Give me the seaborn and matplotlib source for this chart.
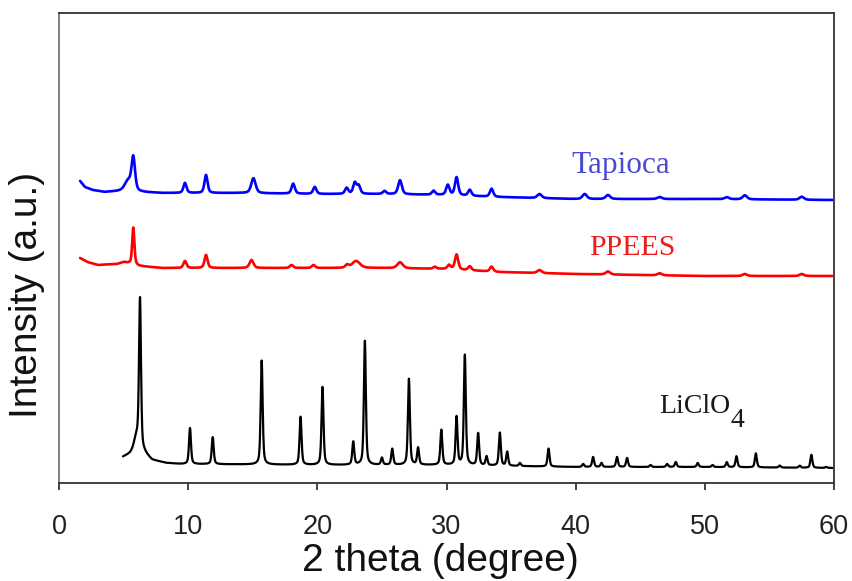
import numpy as np
import pandas as pd
import matplotlib
matplotlib.use("Agg")
import matplotlib.pyplot as plt
import seaborn as sns

# ---------------- data ----------------
x_ticks = [0, 10, 20, 30, 40, 50, 60]

# LiClO4 (black)
licl_range = (4.95, 59.9)
licl_base_x = [4.95, 5.5, 5.9, 6.6, 7.2, 8.3, 9.4, 15, 20, 25, 30, 35, 40, 50, 60]
licl_base_y = [26, 29, 33, 30, 23, 20, 19, 18.5, 18, 18, 18, 17, 16, 16, 15]
licl_pos = [6.0, 6.27, 10.14, 11.9, 15.69, 18.7, 20.4, 22.78, 23.68, 25.0, 25.8,
            27.09, 27.8, 29.6, 30.78, 31.42, 32.45, 33.1, 34.13, 34.7, 35.68,
            37.9, 40.58, 41.35, 42.0, 43.2, 43.98, 45.8, 47.08, 47.75, 49.45,
            50.6, 51.7, 52.45, 53.95, 55.8, 57.35, 58.25, 59.4]
licl_h = [12, 150, 36, 27, 104, 48, 78, 23, 124, 7, 16,
          86, 17, 35, 48, 110, 32, 9, 33, 14, 3,
          18, 3, 10, 4, 10, 9, 2, 3, 5, 4,
          2, 5, 11, 14, 2, 2, 13, 1]
licl_hw = [0.22, 0.09] + [0.09] * 37

# Tapioca (blue)
tap_range = (1.63, 59.9)
tap_base_x = [1.63, 2.0, 2.6, 3.5, 5.0, 6.2, 8, 14, 20, 25, 30, 34, 40, 50, 60]
tap_base_y = [302, 296, 293, 291, 292, 291, 290, 290, 289, 289, 288, 286, 284, 284, 283]
tap_pos = [5.35, 5.75, 9.75, 11.38, 15.05, 18.13, 19.8, 22.27, 22.9, 23.2, 25.2,
           26.4, 29.0, 30.1, 30.78, 31.8, 33.49, 37.2, 40.7, 42.5, 46.5,
           51.7, 53.1, 57.5]
tap_h = [10, 33, 10, 18, 15, 10, 7, 6, 11, 8, 3,
         14, 4, 10, 18, 6, 8, 4, 5, 4, 2,
         2, 4, 3]
tap_hw = [0.3, 0.16, 0.14, 0.14, 0.2, 0.15, 0.15, 0.15, 0.15, 0.15, 0.15,
          0.17, 0.15, 0.15, 0.15, 0.15, 0.15, 0.2, 0.2, 0.2, 0.2,
          0.2, 0.2, 0.2]

# PPEES (red)
pp_range = (1.63, 59.9)
pp_base_x = [1.63, 2.2, 3.0, 4.5, 5.0, 6.2, 8, 14, 20, 25, 30, 34, 40, 50, 60]
pp_base_y = [225, 221, 218, 219, 221, 217, 215, 215, 215, 215, 214, 211, 209, 207, 207]
pp_pos = [5.75, 9.75, 11.38, 14.9, 18.0, 19.7, 22.3, 23.0, 26.4, 29.1, 30.2,
          30.78, 31.8, 33.49, 37.2, 42.5, 46.5, 53.1, 57.5]
pp_h = [37, 7, 13, 8, 3, 3, 3, 7, 6, 2, 4,
        15, 4, 5, 3, 3, 2, 2, 2]
pp_hw = [0.1, 0.14, 0.14, 0.18, 0.15, 0.15, 0.15, 0.35, 0.25, 0.15, 0.15,
         0.15, 0.15, 0.15, 0.2, 0.2, 0.2, 0.2, 0.2]

samples = ["LiClO4", "PPEES", "Tapioca"]
colors = {"LiClO4": "#000000", "PPEES": "#ff0000", "Tapioca": "#0000ff"}


def pattern(rng, bx, by, pos, h, hw):
    x = np.arange(rng[0], rng[1], 0.01)
    y = np.interp(x, bx, by)
    for c, a, g in zip(pos, h, hw):
        lor = g ** 2 / ((x - c) ** 2 + g ** 2)
        gau = np.exp(-np.log(2) * ((x - c) / g) ** 2)
        y = y + a * (0.5 * lor + 0.5 * gau)
    return x, y


frames = []
for name, args in [("LiClO4", (licl_range, licl_base_x, licl_base_y, licl_pos, licl_h, licl_hw)),
                   ("PPEES", (pp_range, pp_base_x, pp_base_y, pp_pos, pp_h, pp_hw)),
                   ("Tapioca", (tap_range, tap_base_x, tap_base_y, tap_pos, tap_h, tap_hw))]:
    xx, yy = pattern(*args)
    frames.append(pd.DataFrame({"two_theta": xx, "intensity": yy, "sample": name}))
df = pd.concat(frames, ignore_index=True)

# ---------------- figure ----------------
sns.set_style("white")
plt.rcParams['font.family'] = ['Liberation Sans', 'DejaVu Sans']

fig = plt.figure(figsize=(8.53, 5.81), dpi=100)
ax = fig.add_axes([0.0692, 0.1687, 0.9085, 0.8089])

for name, lw in [("LiClO4", 1.6), ("PPEES", 1.9), ("Tapioca", 1.9)]:
    sns.lineplot(data=df[df["sample"] == name], x="two_theta", y="intensity",
                 color=colors[name], linewidth=lw, estimator=None, sort=False,
                 legend=False, ax=ax)

ax.set_xlim(0, 60)
ax.set_ylim(0, 470)
ax.set_xticks(x_ticks)
ax.set_xticklabels([str(t) for t in x_ticks])
ax.set_yticks([])
ax.tick_params(axis='x', direction='out', bottom=True, length=5, width=1.2,
               pad=17.5, labelsize=19.5, colors='#222222')
for s in ax.spines.values():
    s.set_color('#333333')
    s.set_linewidth(1.3)
ax.spines['left'].set_color('#777777')

ax.set_xlabel('2 theta (degree)', fontsize=28, color='#111111')
ax.xaxis.set_label_coords(0.4916, -0.128)
ax.set_ylabel('Intensity (a.u.)', fontsize=28, color='#111111')
ax.yaxis.set_label_coords(-0.018, 0.40)

serif = ['Liberation Serif', 'DejaVu Serif']
ax.text(39.7, 310, "Tapioca", color="#4a4ad8", fontsize=22.5, family=serif,
        ha='left', va='baseline')
ax.text(41.05, 228, "PPEES", color="#ee1c1c", fontsize=21.5, family=serif,
        ha='left', va='baseline')
t1 = ax.text(46.5, 70, "LiClO", color="#1a1a1a", fontsize=20, family=serif,
             ha='left', va='baseline')
ax.annotate("4", xy=(1.0, -0.05), xycoords=t1, color="#1a1a1a", fontsize=20,
            family=serif, ha='left', va='center')

fig.savefig("out.png", dpi=100)
